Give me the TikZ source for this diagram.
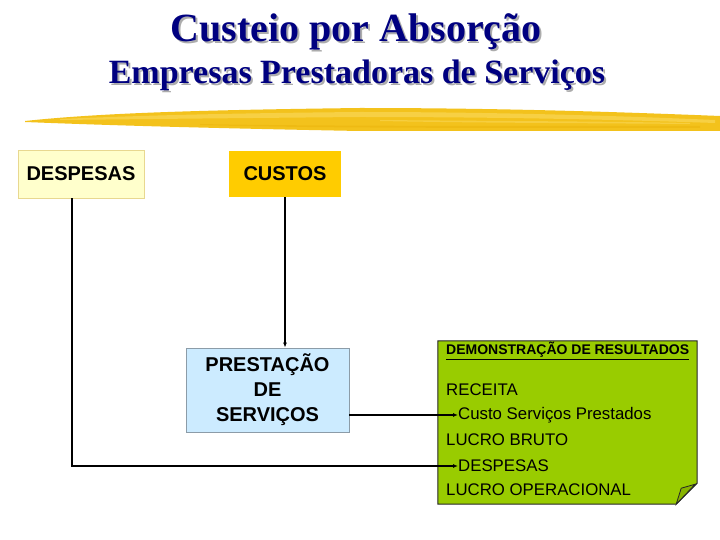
\documentclass[tikz,border=0pt]{standalone}
\usepackage{fontspec}
\setmainfont{Liberation Sans}
\newfontfamily\titlefont{Liberation Serif}
\usetikzlibrary{arrows.meta}
\definecolor{navy}{HTML}{000080}
\definecolor{brushA}{HTML}{F3C21C}
\definecolor{brushB}{HTML}{F8D44E}
\definecolor{brushC}{HTML}{EDB810}
\definecolor{despfill}{HTML}{FFFFCC}
\definecolor{despdraw}{HTML}{E8D890}
\definecolor{custfill}{HTML}{FFCC00}
\definecolor{prestfill}{HTML}{CCEBFF}
\definecolor{prestdraw}{HTML}{8C9CA8}
\definecolor{notefill}{HTML}{99CC00}
\definecolor{foldfill}{HTML}{88B400}
\newcommand{\shadowed}[1]{\makebox[0pt][l]{\hspace{2pt}\raisebox{-2pt}{\textcolor{gray!65}{#1}}}#1}
\tikzset{
  box/.style={inner sep=0pt, align=center, font=\bfseries\fontsize{20}{24}\selectfont},
  notetext/.style={anchor=west, inner sep=0pt, font=\fontsize{16.8}{19}\selectfont},
  conn/.style={line width=1.3pt, -{Latex[length=5pt,width=4pt]}},
  ttl/.style={text=navy, inner sep=0pt}
}
\begin{document}
\begin{tikzpicture}[x=1pt,y=-1pt]
\useasboundingbox (0,0) rectangle (720,540);
\fill[white] (0,0) rectangle (720,540);
% titles with shadow
\node[ttl, font=\titlefont\bfseries\fontsize{40}{44}\selectfont] (t1) at (356,33) {\shadowed{Custeio por Absorção}};
\node[ttl, font=\titlefont\bfseries\fontsize{34}{38}\selectfont] (t2) at (357,76.5) {\shadowed{Empresas Prestadoras de Serviços}};
% brush stroke
\fill[brushA] (25,121) .. controls (100,113) and (200,110) .. (360,108) .. controls (500,108) and (620,112) .. (720,116) -- (720,131) .. controls (600,131) and (450,131) .. (360,131) .. controls (200,128) and (100,125) .. (25,122) -- cycle;
\fill[brushB, opacity=0.8] (60,119) .. controls (150,115) and (250,113) .. (360,112) .. controls (480,112) and (600,115) .. (715,120) -- (715,123) .. controls (600,119) and (480,117) .. (360,117) .. controls (250,118) and (150,119) .. (60,120) -- cycle;
\fill[brushC, opacity=0.7] (200,124) .. controls (300,126) and (450,126) .. (700,126) -- (700,128) .. controls (450,128) and (300,128) .. (200,125) -- cycle;
\fill[brushB, opacity=0.7] (380,120) .. controls (480,121) and (580,121) .. (690,123) -- (690,124) .. controls (580,123) and (480,123) .. (380,121) -- cycle;
% boxes
\node[box, fill=despfill, draw=despdraw, line width=0.8pt, minimum width=126pt, minimum height=48pt] (desp) at (81,174) {DESPESAS};
\node[box, fill=custfill, minimum width=112pt, minimum height=46pt] (cust) at (285,174) {CUSTOS};
\node[box, fill=prestfill, draw=prestdraw, line width=0.8pt, minimum width=163pt, minimum height=84pt, font=\bfseries\fontsize{20}{25}\selectfont] (prest) at (267.5,390) {PRESTAÇÃO\\DE\\SERVIÇOS};
% note
\node[minimum width=259pt, minimum height=163pt, inner sep=0pt] (note) at (567.5,422.5) {};
\fill[notefill, draw=black!85, line width=1pt] (note.north west) -- (note.north east) -- ([yshift=21pt]note.south east) -- ([xshift=-21pt]note.south east) -- (note.south west) -- cycle;
\fill[foldfill, draw=black!85, line width=0.8pt] ([xshift=-21pt]note.south east) -- ([xshift=-16pt,yshift=16pt]note.south east) -- ([xshift=-2pt,yshift=20pt]note.south east) -- cycle;
\node[notetext, font=\bfseries\fontsize{14}{16}\selectfont] (dr) at (446,351) {\underline{DEMONSTRAÇÃO DE RESULTADOS}};
\node[notetext] (rec) at (446,390) {RECEITA};
\node[notetext] (csp) at (458,415) {Custo Serviços Prestados};
\node[notetext] (lb) at (446,440) {LUCRO BRUTO};
\node[notetext] (tdesp) at (458,466) {DESPESAS};
\node[notetext] (lo) at (446,490) {LUCRO OPERACIONAL};
% connectors
\draw[conn] (cust.south) -- (cust.south |- prest.north);
\draw[conn] (prest.east |- csp.west) -- (csp.west);
\draw[conn] (desp.south -| 72,0) |- (tdesp.west);
\end{tikzpicture}
\end{document}
